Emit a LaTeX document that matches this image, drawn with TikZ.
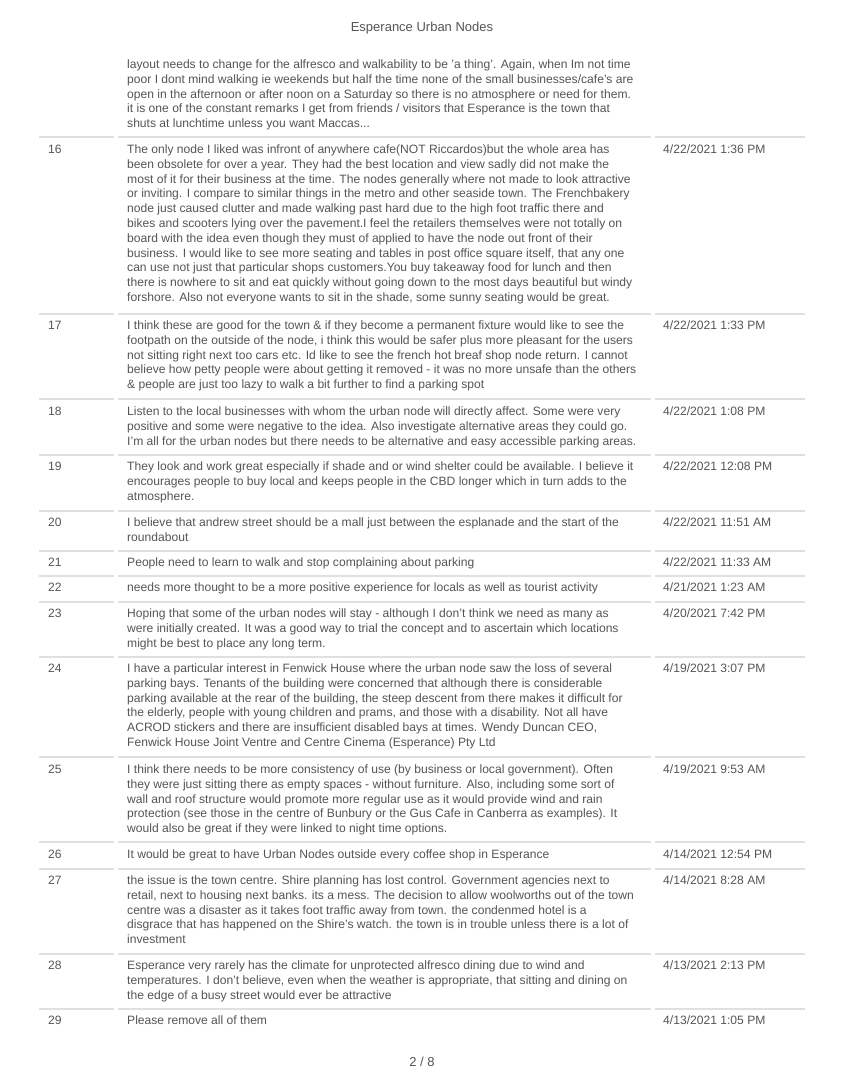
\documentclass[tikz,border=0pt]{standalone}
\usepackage{fontspec}
\setmainfont{Liberation Sans}
\definecolor{txt}{HTML}{555555}
\definecolor{sep}{HTML}{E0E0E0}
\begin{document}
\begin{tikzpicture}[x=1pt,y=-1pt,
  body/.style={anchor=north west,inner sep=0pt,align=left,text=txt,font=\fontsize{12.1}{14.8}\selectfont},
  num/.style={body},
  seprule/.style={draw=sep,line width=1.5pt}]
\useasboundingbox[fill=white] (0,0) rectangle (844,1091);
\newcommand\sepline[1]{\draw[seprule] (39,#1) -- (114,#1); \draw[seprule] (118,#1) -- (651,#1); \draw[seprule] (655,#1) -- (805,#1);}
\node[text=txt,font=\fontsize{13}{14}\selectfont] (title) at (422,28) {Esperance Urban Nodes};
\node[body] (t15) at (127,59.5) {layout needs to change for the alfresco and walkability to be 'a thing'. Again, when Im not time\\poor I dont mind walking ie weekends but half the time none of the small businesses/cafe's are\\open in the afternoon or after noon on a Saturday so there is no atmosphere or need for them.\\it is one of the constant remarks I get from friends / visitors that Esperance is the town that\\shuts at lunchtime unless you want Maccas...};
\sepline{137}
\node[num] (n16) at (48,144.5) {16};
\node[body] (t16) at (127,144.5) {The only node I liked was infront of anywhere cafe(NOT Riccardos)but the whole area has\\been obsolete for over a year. They had the best location and view sadly did not make the\\most of it for their business at the time. The nodes generally where not made to look attractive\\or inviting. I compare to similar things in the metro and other seaside town. The Frenchbakery\\node just caused clutter and made walking past hard due to the high foot traffic there and\\bikes and scooters lying over the pavement.I feel the retailers themselves were not totally on\\board with the idea even though they must of applied to have the node out front of their\\business. I would like to see more seating and tables in post office square itself, that any one\\can use not just that particular shops customers.You buy takeaway food for lunch and then\\there is nowhere to sit and eat quickly without going down to the most days beautiful but windy\\forshore. Also not everyone wants to sit in the shade, some sunny seating would be great.};
\node[body] (d16) at (663,144.5) {4/22/2021 1:36 PM};
\sepline{314}
\node[num] (n17) at (48,320.5) {17};
\node[body] (t17) at (127,320.5) {I think these are good for the town \& if they become a permanent fixture would like to see the\\footpath on the outside of the node, i think this would be safer plus more pleasant for the users\\not sitting right next too cars etc. Id like to see the french hot breaf shop node return. I cannot\\believe how petty people were about getting it removed - it was no more unsafe than the others\\\& people are just too lazy to walk a bit further to find a parking spot};
\node[body] (d17) at (663,320.5) {4/22/2021 1:33 PM};
\sepline{399}
\node[num] (n18) at (48,406.5) {18};
\node[body] (t18) at (127,406.5) {Listen to the local businesses with whom the urban node will directly affect. Some were very\\positive and some were negative to the idea. Also investigate alternative areas they could go.\\I'm all for the urban nodes but there needs to be alternative and easy accessible parking areas.};
\node[body] (d18) at (663,406.5) {4/22/2021 1:08 PM};
\sepline{455}
\node[num] (n19) at (48,461.5) {19};
\node[body] (t19) at (127,461.5) {They look and work great especially if shade and or wind shelter could be available. I believe it\\encourages people to buy local and keeps people in the CBD longer which in turn adds to the\\atmosphere.};
\node[body] (d19) at (663,461.5) {4/22/2021 12:08 PM};
\sepline{511}
\node[num] (n20) at (48,517.5) {20};
\node[body] (t20) at (127,517.5) {I believe that andrew street should be a mall just between the esplanade and the start of the\\roundabout};
\node[body] (d20) at (663,517.5) {4/22/2021 11:51 AM};
\sepline{551}
\node[num] (n21) at (48,557.5) {21};
\node[body] (t21) at (127,557.5) {People need to learn to walk and stop complaining about parking};
\node[body] (d21) at (663,557.5) {4/22/2021 11:33 AM};
\sepline{576}
\node[num] (n22) at (48,582.5) {22};
\node[body] (t22) at (127,582.5) {needs more thought to be a more positive experience for locals as well as tourist activity};
\node[body] (d22) at (663,582.5) {4/21/2021 1:23 AM};
\sepline{602}
\node[num] (n23) at (48,608.5) {23};
\node[body] (t23) at (127,608.5) {Hoping that some of the urban nodes will stay - although I don't think we need as many as\\were initially created. It was a good way to trial the concept and to ascertain which locations\\might be best to place any long term.};
\node[body] (d23) at (663,608.5) {4/20/2021 7:42 PM};
\sepline{657}
\node[num] (n24) at (48,663.5) {24};
\node[body] (t24) at (127,663.5) {I have a particular interest in Fenwick House where the urban node saw the loss of several\\parking bays. Tenants of the building were concerned that although there is considerable\\parking available at the rear of the building, the steep descent from there makes it difficult for\\the elderly, people with young children and prams, and those with a disability. Not all have\\ACROD stickers and there are insufficient disabled bays at times. Wendy Duncan CEO,\\Fenwick House Joint Ventre and Centre Cinema (Esperance) Pty Ltd};
\node[body] (d24) at (663,663.5) {4/19/2021 3:07 PM};
\sepline{757}
\node[num] (n25) at (48,764.5) {25};
\node[body] (t25) at (127,764.5) {I think there needs to be more consistency of use (by business or local government). Often\\they were just sitting there as empty spaces - without furniture. Also, including some sort of\\wall and roof structure would promote more regular use as it would provide wind and rain\\protection (see those in the centre of Bunbury or the Gus Cafe in Canberra as examples). It\\would also be great if they were linked to night time options.};
\node[body] (d25) at (663,764.5) {4/19/2021 9:53 AM};
\sepline{842}
\node[num] (n26) at (48,849.5) {26};
\node[body] (t26) at (127,849.5) {It would be great to have Urban Nodes outside every coffee shop in Esperance};
\node[body] (d26) at (663,849.5) {4/14/2021 12:54 PM};
\sepline{869}
\node[num] (n27) at (48,875.5) {27};
\node[body] (t27) at (127,875.5) {the issue is the town centre. Shire planning has lost control. Government agencies next to\\retail, next to housing next banks. its a mess. The decision to allow woolworths out of the town\\centre was a disaster as it takes foot traffic away from town. the condenmed hotel is a\\disgrace that has happened on the Shire's watch. the town is in trouble unless there is a lot of\\investment};
\node[body] (d27) at (663,875.5) {4/14/2021 8:28 AM};
\sepline{954}
\node[num] (n28) at (48,960.5) {28};
\node[body] (t28) at (127,960.5) {Esperance very rarely has the climate for unprotected alfresco dining due to wind and\\temperatures. I don't believe, even when the weather is appropriate, that sitting and dining on\\the edge of a busy street would ever be attractive};
\node[body] (d28) at (663,960.5) {4/13/2021 2:13 PM};
\sepline{1009}
\node[num] (n29) at (48,1015.5) {29};
\node[body] (t29) at (127,1015.5) {Please remove all of them};
\node[body] (d29) at (663,1015.5) {4/13/2021 1:05 PM};
\node[text=txt,font=\fontsize{13}{14}\selectfont] (foot) at (422,1062) {2 / 8};
\end{tikzpicture}
\end{document}
